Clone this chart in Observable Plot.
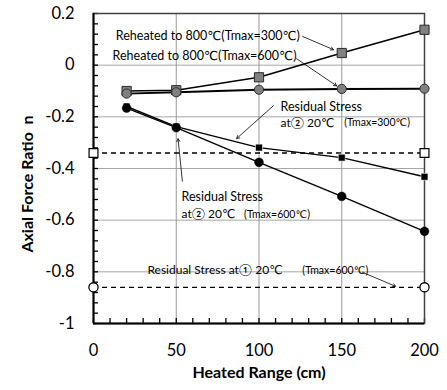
<!DOCTYPE html>
<html>
<head>
<meta charset="utf-8">
<script src="https://cdn.jsdelivr.net/npm/d3@7"></script>
<script src="https://cdn.jsdelivr.net/npm/@observablehq/plot@0.6"></script>
<style>
  body { margin: 0; background: white; }
</style>
</head>
<body>
<div id="chart"></div>
<script>
// ---- data ----
const heated = [20, 50, 100, 150, 200];                     // Heated Range (cm)
const reheat300 = [-0.100, -0.097, -0.047, 0.047, 0.137];  // Reheated to 800℃ (Tmax=300℃)
const reheat600 = [-0.110, -0.105, -0.095, -0.092, -0.091];// Reheated to 800℃ (Tmax=600℃)
const resid300 = [-0.160, -0.238, -0.319, -0.358, -0.432]; // Residual stress at② (Tmax=300℃)
const resid600 = [-0.166, -0.242, -0.376, -0.508, -0.643]; // Residual stress at② (Tmax=600℃)
const residAt1_300 = -0.34;   // dashed level, open squares
const residAt1_600 = -0.86;   // dashed level, open circles
const levelEnds = [0, 200];

const xTicks = [0, 50, 100, 150, 200];
const yTicks = [0.2, 0, -0.2, -0.4, -0.6, -0.8, -1];
const xGrid = [50, 100, 150];
const yGrid = [0, -0.2, -0.4, -0.6, -0.8];
const xMinor = d3.range(0, 201, 10);
const yMinor = d3.range(0, 31).map(i => +(0.2 - i * 0.04).toFixed(2));

const rows = vals => heated.map((x, i) => ({x, y: vals[i]}));

// annotations (in data coordinates)
const notes = [
  {x: 13.5, y: 0.113, t: "Reheated to 800℃(Tmax=300℃)", s: 12.5},
  {x: 11.5, y: 0.036, t: "Reheated to 800℃(Tmax=600℃)", s: 12.5},
  {x: 113, y: -0.163, t: "Residual Stress", s: 12.5},
  {x: 113, y: -0.224, t: "at② 20℃", s: 12},
  {x: 151.5, y: -0.224, t: "(Tmax=300℃)", s: 10.5},
  {x: 53.2, y: -0.511, t: "Residual Stress", s: 12.5},
  {x: 53.2, y: -0.578, t: "at② 20℃", s: 12},
  {x: 91, y: -0.578, t: "(Tmax=600℃)", s: 10.5},
  {x: 32.6, y: -0.794, t: "Residual Stress at① 20℃", s: 12},
  {x: 126.2, y: -0.794, t: "(Tmax=600℃)", s: 10.5}
];
const arrows = [
  {x1: 126.4, y1: 0.111, x2: 145, y2: 0.060},
  {x1: 122.7, y1: 0.025, x2: 146.9, y2: -0.080},
  {x1: 108.7, y1: -0.157, x2: 86.5, y2: -0.284},
  {x1: 53.7, y1: -0.449, x2: 51.1, y2: -0.285},
  {x1: 162.6, y1: -0.802, x2: 182.5, y2: -0.856}
];

const chart = Plot.plot({
  width: 447,
  height: 390,
  marginLeft: 93,
  marginRight: 23,
  marginTop: 13,
  marginBottom: 67,
  style: {fontFamily: "Lato, 'DejaVu Sans', 'Noto Sans CJK JP', sans-serif", background: "white", overflow: "visible", color: "black"},
  x: {domain: [0, 200]},
  y: {domain: [-1, 0.2]},
  marks: [
    Plot.ruleY(yGrid, {stroke: "#a6a6a6", strokeWidth: 1}),
    Plot.ruleX(xGrid, {stroke: "#999", strokeWidth: 1}),
    // minor ticks (inside)
    Plot.axisX({ticks: xMinor, tickSize: -5, tickFormat: () => "", label: null, strokeWidth: 1.3}),
    Plot.axisY({ticks: yMinor, tickSize: -5, tickFormat: () => "", label: null, strokeWidth: 1.3}),
    // major tick labels
    Plot.axisX({ticks: xTicks, tickSize: 0, tickPadding: 21, fontSize: 16.5, label: null}),
    Plot.axisY({ticks: yTicks, tickSize: 0, tickPadding: 19, fontSize: 16.5, label: null, tickFormat: d => String(d)}),
    // frame
    Plot.frame({stroke: "#404040", strokeWidth: 1.5}),
    Plot.ruleX([0], {stroke: "black", strokeWidth: 2}),
    Plot.ruleY([-1], {stroke: "black", strokeWidth: 2}),
    // dashed levels
    Plot.ruleY([residAt1_300, residAt1_600], {x1: levelEnds[0], x2: levelEnds[1], stroke: "black", strokeWidth: 1.3, strokeDasharray: "5,4"}),
    // series lines
    Plot.line(rows(resid300), {x: "x", y: "y", stroke: "black", strokeWidth: 1.4}),
    Plot.line(rows(resid600), {x: "x", y: "y", stroke: "black", strokeWidth: 1.4}),
    Plot.line(rows(reheat600), {x: "x", y: "y", stroke: "black", strokeWidth: 1.9}),
    Plot.line(rows(reheat300), {x: "x", y: "y", stroke: "black", strokeWidth: 1.6}),
    // markers
    Plot.dot(rows(resid300), {x: "x", y: "y", symbol: "square", r: 3.9, fill: "black", stroke: "white", strokeWidth: 0.6}),
    Plot.dot(rows(resid600), {x: "x", y: "y", symbol: "circle", r: 4.4, fill: "black", stroke: "black", strokeWidth: 0.5}),
    Plot.dot(rows(reheat300), {x: "x", y: "y", symbol: "square", r: 5.2, fill: "#808080", stroke: "#2b2b2b", strokeWidth: 1}),
    Plot.dot(rows(reheat600), {x: "x", y: "y", symbol: "circle", r: 4.6, fill: "#808080", stroke: "#2b2b2b", strokeWidth: 1}),
    Plot.dot(levelEnds, {x: d => d, y: () => residAt1_300, symbol: "square", r: 5, fill: "white", stroke: "black", strokeWidth: 1.2}),
    Plot.dot(levelEnds, {x: d => d, y: () => residAt1_600, symbol: "circle", r: 4.6, fill: "white", stroke: "black", strokeWidth: 1.3}),
    // annotations
    Plot.text(notes, {x: "x", y: "y", text: "t", fontSize: "s", textAnchor: "start", fill: "black"}),
    Plot.arrow(arrows, {x1: "x1", y1: "y1", x2: "x2", y2: "y2", stroke: "black", strokeWidth: 0.8, headLength: 6}),
    // axis titles
    Plot.text(["Heated Range (cm)"], {frameAnchor: "bottom", dy: 54, fontSize: 16, fontWeight: "bold", fill: "black"}),
    Plot.text(["Axial Force Ratio\u00a0 n"], {x: () => -39.5, y: () => -0.46, rotate: -90, fontSize: 16, fontWeight: "bold", fill: "black"})
  ]
});
document.getElementById("chart").appendChild(chart);
</script>
</body>
</html>
